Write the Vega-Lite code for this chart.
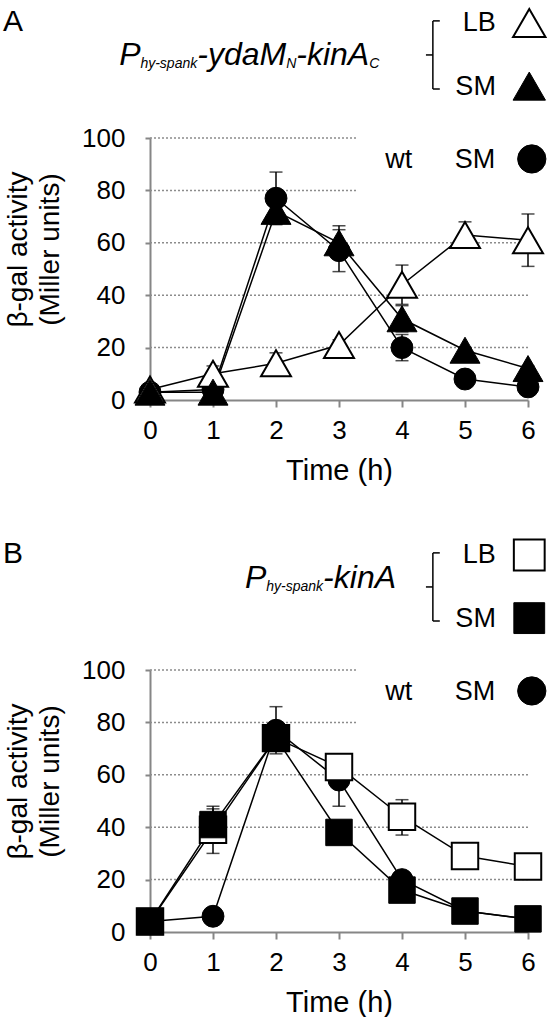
{
  "$schema": "https://vega.github.io/schema/vega-lite/v6.json",
  "padding": {"left": 3, "top": 4, "right": 0, "bottom": 0},
  "spacing": 270,
  "bounds": "flush",
  "config": {
    "view": {"stroke": null},
    "font": "Liberation Sans",
    "text": {"font": "Liberation Sans", "color": "#000"},
    "axis": {
      "grid": false,
      "domainColor": "#868686",
      "domainWidth": 2,
      "tickColor": "#868686",
      "tickWidth": 2,
      "labelColor": "#000",
      "labelFont": "Liberation Sans",
      "labelFontSize": 26,
      "labelFlush": false,
      "labelOverlap": false,
      "titleFont": "Liberation Sans",
      "titleFontSize": 29,
      "titleFontWeight": "normal",
      "titleColor": "#000"
    }
  },
  "datasets": {
    "A": [
      {"series": "wt", "t": 0, "y": 3, "lo": 2, "hi": 4},
      {"series": "wt", "t": 1, "y": 4, "lo": 3, "hi": 5},
      {"series": "wt", "t": 2, "y": 77, "lo": 67, "hi": 87},
      {"series": "wt", "t": 3, "y": 57, "lo": 49, "hi": 65},
      {"series": "wt", "t": 4, "y": 20, "lo": 15, "hi": 25},
      {"series": "wt", "t": 5, "y": 8, "lo": 6.5, "hi": 9.5},
      {"series": "wt", "t": 6, "y": 5, "lo": 4, "hi": 6},
      {"series": "LB", "t": 0, "y": 4, "lo": 3, "hi": 5},
      {"series": "LB", "t": 1, "y": 10, "lo": 7, "hi": 13},
      {"series": "LB", "t": 2, "y": 14, "lo": 11, "hi": 18},
      {"series": "LB", "t": 3, "y": 21, "lo": 19, "hi": 23},
      {"series": "LB", "t": 4, "y": 44, "lo": 36.5, "hi": 51.5},
      {"series": "LB", "t": 5, "y": 63, "lo": 58, "hi": 68},
      {"series": "LB", "t": 6, "y": 61, "lo": 51, "hi": 71},
      {"series": "SM", "t": 0, "y": 3, "lo": 2.5, "hi": 3.5},
      {"series": "SM", "t": 1, "y": 3, "lo": 2.5, "hi": 3.5},
      {"series": "SM", "t": 2, "y": 72, "lo": 67, "hi": 76},
      {"series": "SM", "t": 3, "y": 60, "lo": 54, "hi": 66.5},
      {"series": "SM", "t": 4, "y": 31, "lo": 26, "hi": 36},
      {"series": "SM", "t": 5, "y": 19, "lo": 18, "hi": 20},
      {"series": "SM", "t": 6, "y": 12, "lo": 11, "hi": 13}
    ],
    "B": [
      {"series": "wt", "t": 0, "y": 4, "lo": 3, "hi": 5},
      {"series": "wt", "t": 1, "y": 6, "lo": 5, "hi": 7},
      {"series": "wt", "t": 2, "y": 77, "lo": 68, "hi": 86},
      {"series": "wt", "t": 3, "y": 58, "lo": 48, "hi": 67},
      {"series": "wt", "t": 4, "y": 20, "lo": 17, "hi": 23},
      {"series": "wt", "t": 5, "y": 8, "lo": 7, "hi": 9},
      {"series": "wt", "t": 6, "y": 5, "lo": 4, "hi": 6},
      {"series": "LB", "t": 0, "y": 4, "lo": 3, "hi": 5},
      {"series": "LB", "t": 1, "y": 39, "lo": 30, "hi": 48},
      {"series": "LB", "t": 2, "y": 74, "lo": 71, "hi": 77},
      {"series": "LB", "t": 3, "y": 63, "lo": 61, "hi": 65},
      {"series": "LB", "t": 4, "y": 44, "lo": 37, "hi": 50.5},
      {"series": "LB", "t": 5, "y": 29, "lo": 27, "hi": 31},
      {"series": "LB", "t": 6, "y": 25, "lo": 24, "hi": 26},
      {"series": "SM", "t": 0, "y": 4, "lo": 3, "hi": 5},
      {"series": "SM", "t": 1, "y": 41, "lo": 35, "hi": 47},
      {"series": "SM", "t": 2, "y": 74, "lo": 71, "hi": 77},
      {"series": "SM", "t": 3, "y": 38, "lo": 36, "hi": 40},
      {"series": "SM", "t": 4, "y": 16, "lo": 14, "hi": 18},
      {"series": "SM", "t": 5, "y": 8, "lo": 7, "hi": 9},
      {"series": "SM", "t": 6, "y": 5, "lo": 4, "hi": 6}
    ]
  },
  "vconcat": [
    {
      "width": 378,
      "height": 262,
      "data": {"name": "A"},
      "layer": [
        {"data": {"values": [{"g": 20}, {"g": 40}, {"g": 60}]},
         "mark": {"type": "rule", "color": "#8c8c8c", "strokeWidth": 1.5, "strokeDash": [2, 2]},
         "encoding": {
           "y": {"field": "g", "type": "quantitative", "scale": {"domain": [0, 100], "nice": false},
                 "axis": {"title": ["β-gal activity", "(Miller units)"], "values": [0, 20, 40, 60, 80, 100], "tickSize": 5, "labelPadding": 20, "titleX": -146, "titleY": 111, "titleAngle": -90, "titleAlign": "center", "titleBaseline": "top", "titleLineHeight": 32, "titleFontSize": 28}},
           "x": {"datum": 0}, "x2": {"datum": 6}}},
        {"data": {"values": [{"g": 80}, {"g": 100}]},
         "mark": {"type": "rule", "color": "#8c8c8c", "strokeWidth": 1.5, "strokeDash": [2, 2]},
         "encoding": {"y": {"field": "g", "type": "quantitative"}, "x": {"datum": 0}, "x2": {"datum": 3.3}}},
        {"mark": {"type": "line", "color": "#000", "strokeWidth": 1.5},
         "encoding": {
           "x": {"field": "t", "type": "quantitative", "scale": {"domain": [0, 6], "nice": false, "zero": false},
                 "axis": {"title": "Time (h)", "values": [0, 1, 2, 3, 4, 5, 6], "format": "d", "tickSize": 7, "labelPadding": 10, "labelAngle": 0, "titleX": 189, "titleY": 79, "titleAlign": "center", "titleBaseline": "alphabetic"}},
           "y": {"field": "y", "type": "quantitative"},
           "detail": {"field": "series"}
         }},
        {"mark": {"type": "rule", "color": "#000", "strokeWidth": 1.5},
         "encoding": {"x": {"field": "t", "type": "quantitative"}, "y": {"field": "lo", "type": "quantitative"}, "y2": {"field": "hi"}}},
        {"mark": {"type": "tick", "color": "#000", "orient": "horizontal", "size": 13, "thickness": 1.5},
         "encoding": {"x": {"field": "t", "type": "quantitative"}, "y": {"field": "lo", "type": "quantitative"}}},
        {"mark": {"type": "tick", "color": "#000", "orient": "horizontal", "size": 13, "thickness": 1.5},
         "encoding": {"x": {"field": "t", "type": "quantitative"}, "y": {"field": "hi", "type": "quantitative"}}},
        {"transform": [{"filter": "datum.series === 'wt'"}],
         "mark": {"type": "point", "shape": "circle", "filled": true, "fill": "#000", "stroke": "#000", "strokeWidth": 1, "size": 480, "opacity": 1},
         "encoding": {"x": {"field": "t", "type": "quantitative"}, "y": {"field": "y", "type": "quantitative"}}},
        {"transform": [{"filter": "datum.series === 'LB'"}],
         "mark": {"type": "point", "shape": "triangle-up", "filled": true, "fill": "#fff", "stroke": "#000", "strokeWidth": 2, "size": 900, "opacity": 1},
         "encoding": {"x": {"field": "t", "type": "quantitative"}, "y": {"field": "y", "type": "quantitative"}}},
        {"transform": [{"filter": "datum.series === 'SM'"}],
         "mark": {"type": "point", "shape": "triangle-up", "filled": true, "fill": "#000", "stroke": "#000", "strokeWidth": 1, "size": 900, "opacity": 1},
         "encoding": {"x": {"field": "t", "type": "quantitative"}, "y": {"field": "y", "type": "quantitative"}}},
        {"data": {"values": [{}]}, "mark": {"type": "text", "text": "A", "fontSize": 30, "align": "left", "baseline": "alphabetic"},
         "encoding": {"x": {"datum": -2.333}, "y": {"datum": 140.8}}},
        {"data": {"values": [{}]}, "mark": {"type": "text", "text": "P", "fontSize": 32, "fontStyle": "italic", "align": "left", "baseline": "alphabetic"},
         "encoding": {"x": {"datum": -0.49}, "y": {"datum": 127.9}}},
        {"data": {"values": [{}]}, "mark": {"type": "text", "text": "hy-spank", "fontSize": 14, "fontStyle": "italic", "align": "left", "baseline": "alphabetic"},
         "encoding": {"x": {"datum": -0.152}, "y": {"datum": 126.7}}},
        {"data": {"values": [{}]}, "mark": {"type": "text", "text": "-ydaM", "fontSize": 32, "fontStyle": "italic", "align": "left", "baseline": "alphabetic"},
         "encoding": {"x": {"datum": 0.75}, "y": {"datum": 127.9}}},
        {"data": {"values": [{}]}, "mark": {"type": "text", "text": "N", "fontSize": 14, "fontStyle": "italic", "align": "left", "baseline": "alphabetic"},
         "encoding": {"x": {"datum": 2.161}, "y": {"datum": 126.7}}},
        {"data": {"values": [{}]}, "mark": {"type": "text", "text": "-kinA", "fontSize": 32, "fontStyle": "italic", "align": "left", "baseline": "alphabetic"},
         "encoding": {"x": {"datum": 2.321}, "y": {"datum": 127.9}}},
        {"data": {"values": [{}]}, "mark": {"type": "text", "text": "C", "fontSize": 14, "fontStyle": "italic", "align": "left", "baseline": "alphabetic"},
         "encoding": {"x": {"datum": 3.479}, "y": {"datum": 126.7}}},
        {"data": {"values": [{}]}, "mark": {"type": "rule", "color": "#000", "strokeWidth": 1.5},
         "encoding": {"x": {"datum": 4.49}, "y": {"datum": 144.7}, "y2": {"datum": 118.7}}},
        {"data": {"values": [{}]}, "mark": {"type": "rule", "color": "#000", "strokeWidth": 1.5},
         "encoding": {"x": {"datum": 4.49}, "x2": {"datum": 4.6}, "y": {"datum": 144.7}}},
        {"data": {"values": [{}]}, "mark": {"type": "rule", "color": "#000", "strokeWidth": 1.5},
         "encoding": {"x": {"datum": 4.49}, "x2": {"datum": 4.6}, "y": {"datum": 118.7}}},
        {"data": {"values": [{}]}, "mark": {"type": "rule", "color": "#000", "strokeWidth": 1.5},
         "encoding": {"x": {"datum": 4.38}, "x2": {"datum": 4.49}, "y": {"datum": 131.7}}},
        {"data": {"values": [{}]}, "mark": {"type": "text", "text": "LB", "fontSize": 27, "align": "right", "baseline": "middle"},
         "encoding": {"x": {"datum": 5.49}, "y": {"datum": 143.9}}},
        {"data": {"values": [{}]}, "mark": {"type": "text", "text": "SM", "fontSize": 27, "align": "right", "baseline": "middle"},
         "encoding": {"x": {"datum": 5.49}, "y": {"datum": 119.5}}},
        {"data": {"values": [{}]}, "mark": {"type": "text", "text": "wt", "fontSize": 27, "align": "center", "baseline": "middle"},
         "encoding": {"x": {"datum": 3.95}, "y": {"datum": 91.6}}},
        {"data": {"values": [{}]}, "mark": {"type": "text", "text": "SM", "fontSize": 27, "align": "right", "baseline": "middle"},
         "encoding": {"x": {"datum": 5.48}, "y": {"datum": 91.6}}},
        {"data": {"values": [{}]}, "mark": {"type": "point", "shape": "triangle-up", "filled": true, "fill": "#fff", "stroke": "#000", "strokeWidth": 2, "size": 1050, "opacity": 1},
         "encoding": {"x": {"datum": 6.02}, "y": {"datum": 143.9}}},
        {"data": {"values": [{}]}, "mark": {"type": "point", "shape": "triangle-up", "filled": true, "fill": "#000", "stroke": "#000", "strokeWidth": 1, "size": 1050, "opacity": 1},
         "encoding": {"x": {"datum": 6.02}, "y": {"datum": 119.8}}},
        {"data": {"values": [{}]}, "mark": {"type": "point", "shape": "circle", "filled": true, "fill": "#000", "stroke": "#000", "strokeWidth": 1, "size": 800, "opacity": 1},
         "encoding": {"x": {"datum": 6.06}, "y": {"datum": 92}}}
      ]
    },
    {
      "width": 378,
      "height": 262,
      "data": {"name": "B"},
      "layer": [
        {"data": {"values": [{"g": 20}, {"g": 40}, {"g": 60}]},
         "mark": {"type": "rule", "color": "#8c8c8c", "strokeWidth": 1.5, "strokeDash": [2, 2]},
         "encoding": {
           "y": {"field": "g", "type": "quantitative", "scale": {"domain": [0, 100], "nice": false},
                 "axis": {"title": ["β-gal activity", "(Miller units)"], "values": [0, 20, 40, 60, 80, 100], "tickSize": 5, "labelPadding": 20, "titleX": -146, "titleY": 111, "titleAngle": -90, "titleAlign": "center", "titleBaseline": "top", "titleLineHeight": 32, "titleFontSize": 28}},
           "x": {"datum": 0}, "x2": {"datum": 6}}},
        {"data": {"values": [{"g": 80}, {"g": 100}]},
         "mark": {"type": "rule", "color": "#8c8c8c", "strokeWidth": 1.5, "strokeDash": [2, 2]},
         "encoding": {"y": {"field": "g", "type": "quantitative"}, "x": {"datum": 0}, "x2": {"datum": 3.3}}},
        {"mark": {"type": "line", "color": "#000", "strokeWidth": 1.5},
         "encoding": {
           "x": {"field": "t", "type": "quantitative", "scale": {"domain": [0, 6], "nice": false, "zero": false},
                 "axis": {"title": "Time (h)", "values": [0, 1, 2, 3, 4, 5, 6], "format": "d", "tickSize": 7, "labelPadding": 10, "labelAngle": 0, "titleX": 189, "titleY": 79, "titleAlign": "center", "titleBaseline": "alphabetic"}},
           "y": {"field": "y", "type": "quantitative"},
           "detail": {"field": "series"}
         }},
        {"mark": {"type": "rule", "color": "#000", "strokeWidth": 1.5},
         "encoding": {"x": {"field": "t", "type": "quantitative"}, "y": {"field": "lo", "type": "quantitative"}, "y2": {"field": "hi"}}},
        {"mark": {"type": "tick", "color": "#000", "orient": "horizontal", "size": 13, "thickness": 1.5},
         "encoding": {"x": {"field": "t", "type": "quantitative"}, "y": {"field": "lo", "type": "quantitative"}}},
        {"mark": {"type": "tick", "color": "#000", "orient": "horizontal", "size": 13, "thickness": 1.5},
         "encoding": {"x": {"field": "t", "type": "quantitative"}, "y": {"field": "hi", "type": "quantitative"}}},
        {"transform": [{"filter": "datum.series === 'wt'"}],
         "mark": {"type": "point", "shape": "circle", "filled": true, "fill": "#000", "stroke": "#000", "strokeWidth": 1, "size": 480, "opacity": 1},
         "encoding": {"x": {"field": "t", "type": "quantitative"}, "y": {"field": "y", "type": "quantitative"}}},
        {"transform": [{"filter": "datum.series === 'LB'"}],
         "mark": {"type": "point", "shape": "square", "filled": true, "fill": "#fff", "stroke": "#000", "strokeWidth": 2, "size": 700, "opacity": 1},
         "encoding": {"x": {"field": "t", "type": "quantitative"}, "y": {"field": "y", "type": "quantitative"}}},
        {"transform": [{"filter": "datum.series === 'SM'"}],
         "mark": {"type": "point", "shape": "square", "filled": true, "fill": "#000", "stroke": "#000", "strokeWidth": 1, "size": 700, "opacity": 1},
         "encoding": {"x": {"field": "t", "type": "quantitative"}, "y": {"field": "y", "type": "quantitative"}}},
        {"data": {"values": [{}]}, "mark": {"type": "text", "text": "B", "fontSize": 30, "align": "left", "baseline": "alphabetic"},
         "encoding": {"x": {"datum": -2.333}, "y": {"datum": 140.8}}},
        {"data": {"values": [{}]}, "mark": {"type": "text", "text": "P", "fontSize": 32, "fontStyle": "italic", "align": "left", "baseline": "alphabetic"},
         "encoding": {"x": {"datum": 1.508}, "y": {"datum": 131.3}}},
        {"data": {"values": [{}]}, "mark": {"type": "text", "text": "hy-spank", "fontSize": 14, "fontStyle": "italic", "align": "left", "baseline": "alphabetic"},
         "encoding": {"x": {"datum": 1.846}, "y": {"datum": 130.2}}},
        {"data": {"values": [{}]}, "mark": {"type": "text", "text": "-kinA", "fontSize": 32, "fontStyle": "italic", "align": "left", "baseline": "alphabetic"},
         "encoding": {"x": {"datum": 2.748}, "y": {"datum": 131.3}}},
        {"data": {"values": [{}]}, "mark": {"type": "rule", "color": "#000", "strokeWidth": 1.5},
         "encoding": {"x": {"datum": 4.49}, "y": {"datum": 144.7}, "y2": {"datum": 118.7}}},
        {"data": {"values": [{}]}, "mark": {"type": "rule", "color": "#000", "strokeWidth": 1.5},
         "encoding": {"x": {"datum": 4.49}, "x2": {"datum": 4.6}, "y": {"datum": 144.7}}},
        {"data": {"values": [{}]}, "mark": {"type": "rule", "color": "#000", "strokeWidth": 1.5},
         "encoding": {"x": {"datum": 4.49}, "x2": {"datum": 4.6}, "y": {"datum": 118.7}}},
        {"data": {"values": [{}]}, "mark": {"type": "rule", "color": "#000", "strokeWidth": 1.5},
         "encoding": {"x": {"datum": 4.38}, "x2": {"datum": 4.49}, "y": {"datum": 131.7}}},
        {"data": {"values": [{}]}, "mark": {"type": "text", "text": "LB", "fontSize": 27, "align": "right", "baseline": "middle"},
         "encoding": {"x": {"datum": 5.49}, "y": {"datum": 143.9}}},
        {"data": {"values": [{}]}, "mark": {"type": "text", "text": "SM", "fontSize": 27, "align": "right", "baseline": "middle"},
         "encoding": {"x": {"datum": 5.49}, "y": {"datum": 119.5}}},
        {"data": {"values": [{}]}, "mark": {"type": "text", "text": "wt", "fontSize": 27, "align": "center", "baseline": "middle"},
         "encoding": {"x": {"datum": 3.95}, "y": {"datum": 91.6}}},
        {"data": {"values": [{}]}, "mark": {"type": "text", "text": "SM", "fontSize": 27, "align": "right", "baseline": "middle"},
         "encoding": {"x": {"datum": 5.48}, "y": {"datum": 91.6}}},
        {"data": {"values": [{}]}, "mark": {"type": "point", "shape": "square", "filled": true, "fill": "#fff", "stroke": "#000", "strokeWidth": 2, "size": 950, "opacity": 1},
         "encoding": {"x": {"datum": 6.02}, "y": {"datum": 143.9}}},
        {"data": {"values": [{}]}, "mark": {"type": "point", "shape": "square", "filled": true, "fill": "#000", "stroke": "#000", "strokeWidth": 1, "size": 950, "opacity": 1},
         "encoding": {"x": {"datum": 6.02}, "y": {"datum": 119.8}}},
        {"data": {"values": [{}]}, "mark": {"type": "point", "shape": "circle", "filled": true, "fill": "#000", "stroke": "#000", "strokeWidth": 1, "size": 800, "opacity": 1},
         "encoding": {"x": {"datum": 6.06}, "y": {"datum": 92}}}
      ]
    }
  ]
}
